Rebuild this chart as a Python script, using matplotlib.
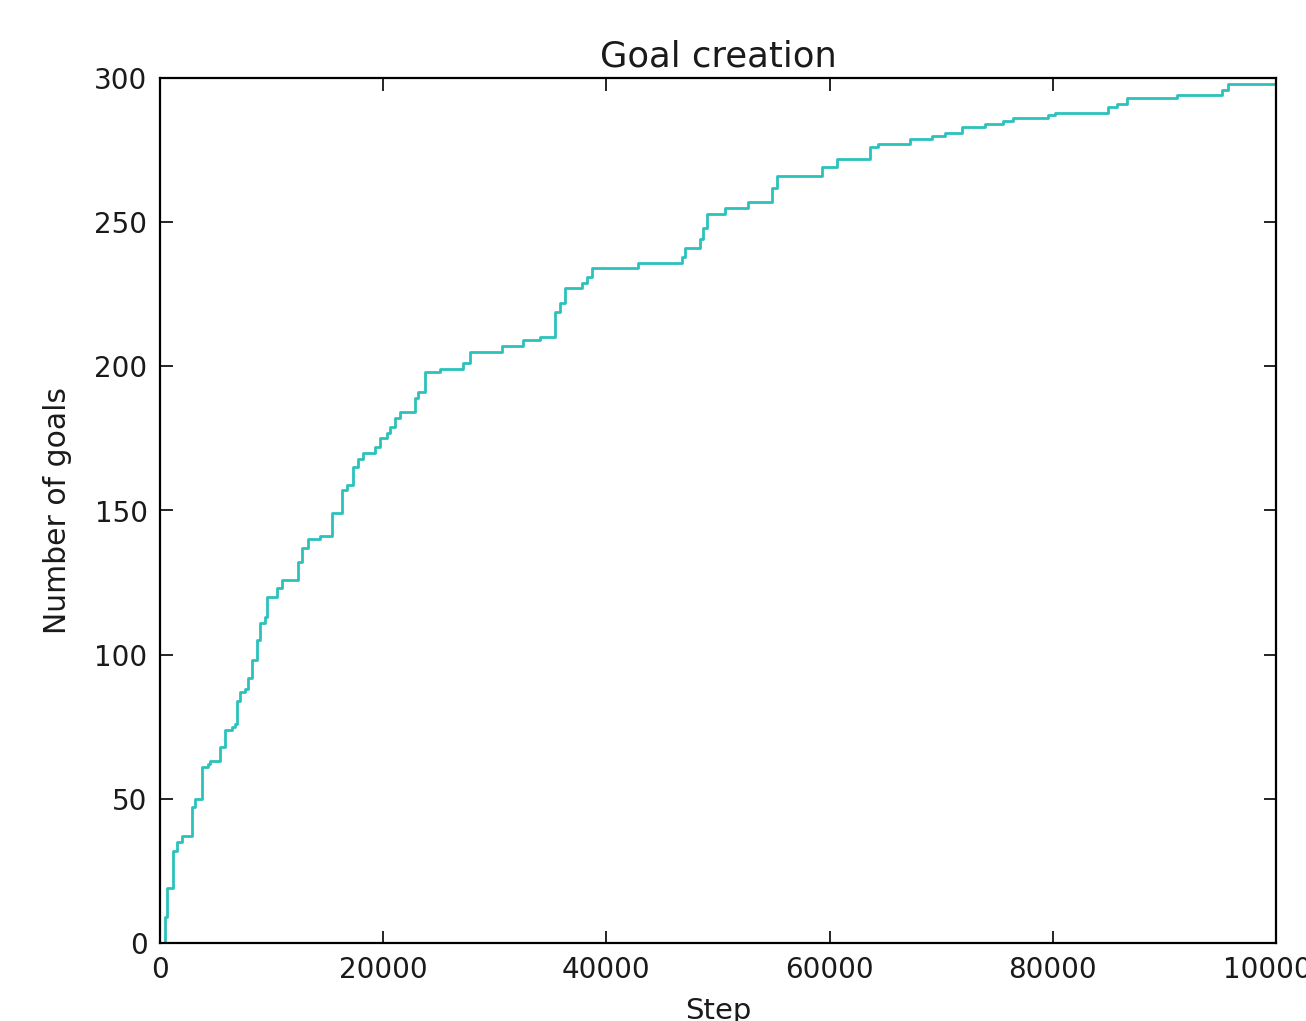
import matplotlib
matplotlib.use('Agg')
import matplotlib.pyplot as plt

# Steps at which the number of goals changes, and the new count
steps = [0, 450, 630, 1160, 1520, 1970, 2870, 3140, 3760, 4300, 4480, 5380,
         5820, 6450, 6720, 6900, 7170, 7620, 7880, 8240, 8690, 8960, 9410,
         9590, 10480, 10930, 12370, 12720, 13260, 14340, 15410, 16310, 16760,
         17290, 17740, 18190, 19260, 19710, 20340, 20610, 21060, 21500, 22850,
         23120, 23740, 25090, 27150, 27780, 30640, 32520, 34050, 35390, 35840,
         36290, 37810, 38260, 38710, 42830, 46770, 47040, 48380, 48700, 49010,
         50620, 52680, 54840, 55280, 59320, 60660, 63620, 64330, 67200, 69170,
         70340, 71860, 73920, 75530, 76430, 79560, 80190, 84940, 85750, 86640,
         91120, 95160, 95690, 100000]
goals = [0, 9, 19, 32, 35, 37, 47, 50, 61, 62, 63, 68,
         74, 75, 76, 84, 87, 88, 92, 98, 105, 111, 113,
         120, 123, 126, 132, 137, 140, 141, 149, 157, 159,
         165, 168, 170, 172, 175, 177, 179, 182, 184, 189,
         191, 198, 199, 201, 205, 207, 209, 210, 219, 222,
         227, 229, 231, 234, 236, 238, 241, 244, 248, 253,
         255, 257, 262, 266, 269, 272, 276, 277, 279, 280,
         281, 283, 284, 285, 286, 287, 288, 290, 291, 293,
         294, 296, 298, 298]

fig = plt.figure(figsize=(13.06, 10.21), dpi=100)
ax = fig.add_axes([160 / 1306, 78 / 1021, 1116 / 1306, 865 / 1021])

ax.plot(steps, goals, drawstyle='steps-post', color='#2cc2bc', linewidth=2.0)

ax.set_xlim(0, 100000)
ax.set_ylim(0, 300)
ax.set_xticks([0, 20000, 40000, 60000, 80000, 100000])
ax.set_yticks([0, 50, 100, 150, 200, 250, 300])

text_color = '#1a1a1a'
ax.set_title('Goal creation', fontsize=25.5, pad=8, color=text_color)
ax.set_xlabel('Step', fontsize=21, labelpad=10, color=text_color)
ax.set_ylabel('Number of goals', fontsize=21.5, labelpad=16, color=text_color)

# classic style: ticks inside on all four sides
ax.tick_params(direction='in', top=True, right=True, length=9, width=1.2,
               labelsize=20, pad=9, labelcolor=text_color)
for spine in ax.spines.values():
    spine.set_linewidth(1.6)

plt.savefig('out.png', dpi=100)
plt.close()
